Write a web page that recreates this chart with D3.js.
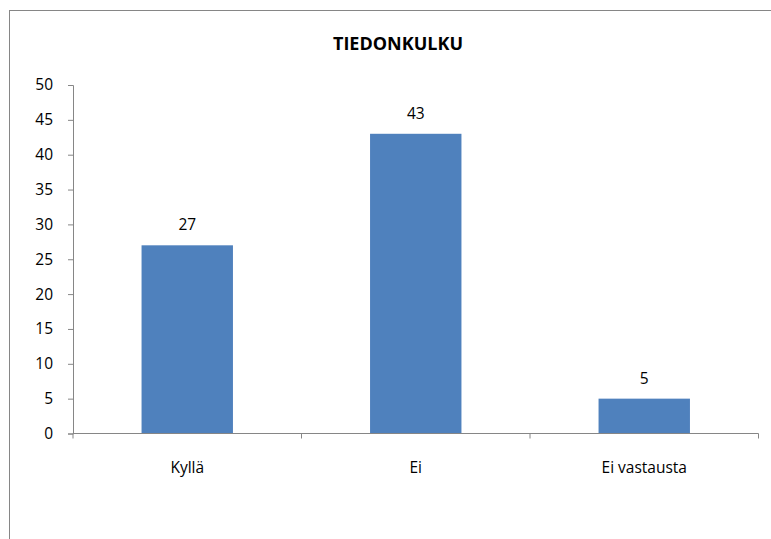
<!DOCTYPE html>
<html>
<head>
<meta charset="utf-8">
<script src="https://cdn.jsdelivr.net/npm/d3@7"></script>
<style>
  body { margin: 0; background: #fff; }
  text { font-family: "Open Sans", "Liberation Sans", sans-serif; fill: #000; }
</style>
</head>
<body>
<svg width="771" height="539"></svg>
<script>
// data
var categories = ["Kyllä", "Ei", "Ei vastausta"];
var values = [27, 43, 5];
var yTicks = [0, 5, 10, 15, 20, 25, 30, 35, 40, 45, 50];

var svg = d3.select("svg");

// chart frame (runs off the right / bottom edge like the original)
svg.append("rect")
    .attr("x", 9.5).attr("y", 10.5)
    .attr("width", 800).attr("height", 600)
    .attr("fill", "none")
    .attr("stroke", "#868686")
    .attr("stroke-width", 1);

var plot = { left: 73, right: 758.5, top: 85, bottom: 433.5 };

var x = d3.scaleBand()
    .domain(categories)
    .range([plot.left, plot.right])
    .paddingInner(0.6)
    .paddingOuter(0.3);

var y = d3.scaleLinear()
    .domain([0, 50])
    .range([plot.bottom, plot.top]);

// title
svg.append("text")
    .attr("x", 398).attr("y", 50)
    .attr("text-anchor", "middle")
    .style("font-weight", "bold")
    .style("font-size", "18px")
    .text("TIEDONKULKU");

// bars
svg.append("g").selectAll("rect")
    .data(values)
    .enter().append("rect")
    .attr("x", function(d, i) { return x(categories[i]); })
    .attr("y", function(d) { return y(d); })
    .attr("width", x.bandwidth())
    .attr("height", function(d) { return y(0) - y(d); })
    .attr("fill", "#4F81BD");

// value labels
svg.append("g").selectAll("text")
    .data(values)
    .enter().append("text")
    .attr("x", function(d, i) { return x(categories[i]) + x.bandwidth() / 2; })
    .attr("y", function(d) { return y(d) - 15; })
    .attr("text-anchor", "middle")
    .style("font-size", "15.5px")
    .text(function(d) { return d; });

// y axis
var yAxis = svg.append("g")
    .attr("transform", "translate(" + plot.left + ",0)")
    .call(d3.axisLeft(y).tickValues(yTicks).tickSize(5).tickPadding(15));
yAxis.selectAll("path, line").attr("stroke", "#868686");
yAxis.selectAll("text")
    .style("font-size", "15.5px")
    .style("font-family", "'Open Sans', 'Liberation Sans', sans-serif")
    .attr("fill", "#000");

// x axis with category separators
var xAxis = svg.append("g")
    .attr("transform", "translate(0," + plot.bottom + ")");
xAxis.append("line")
    .attr("x1", plot.left).attr("x2", plot.right)
    .attr("stroke", "#868686");
var step = (plot.right - plot.left) / categories.length;
xAxis.selectAll(".sep")
    .data(d3.range(categories.length + 1))
    .enter().append("line")
    .attr("class", "sep")
    .attr("x1", function(d) { return plot.left + d * step; })
    .attr("x2", function(d) { return plot.left + d * step; })
    .attr("y1", 0).attr("y2", 5)
    .attr("stroke", "#868686");
xAxis.selectAll(".cat")
    .data(categories)
    .enter().append("text")
    .attr("class", "cat")
    .attr("x", function(d) { return x(d) + x.bandwidth() / 2; })
    .attr("y", 39)
    .attr("text-anchor", "middle")
    .style("font-size", "15.5px")
    .text(function(d) { return d; });
</script>
</body>
</html>
